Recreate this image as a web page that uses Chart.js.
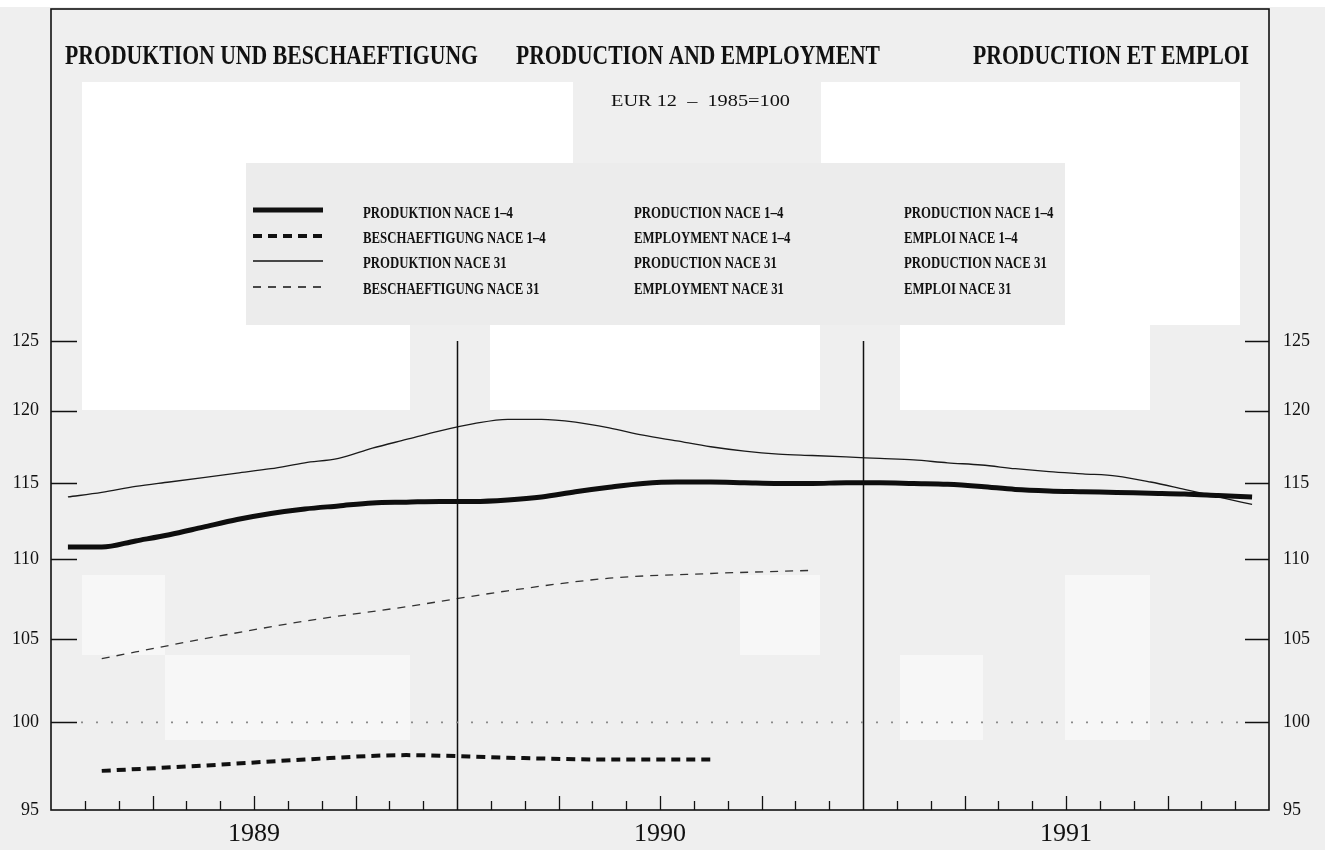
<!DOCTYPE html>
<html><head><meta charset="utf-8">
<script src="https://cdn.jsdelivr.net/npm/chart.js@4.4.1/dist/chart.umd.min.js"></script>
<style>html,body{margin:0;padding:0;background:#efefef;}canvas{display:block;}</style>
</head><body>
<canvas id="c" width="1325" height="850"></canvas>
<script>
// ---- data ----
const years = ['1989', '1990', '1991'];
const monthNames = ['Jan','Feb','Mar','Apr','May','Jun','Jul','Aug','Sep','Oct','Nov','Dec'];
const yTickValues = [95, 100, 105, 110, 115, 120, 125];

const productionNace14 = [
  110.8, 110.8, 111.2, 111.6, 112.1, 112.6, 113.0, 113.3, 113.5, 113.7, 113.75, 113.8,
  113.8, 113.9, 114.1, 114.45, 114.75, 115.0, 115.1, 115.1, 115.05, 115.0, 115.0, 115.05,
  115.05, 115.0, 114.95, 114.8, 114.6, 114.5, 114.45, 114.4, 114.35, 114.3, 114.2, 114.1
];
const productionNace31 = [
  114.1, 114.4, 114.8, 115.1, 115.4, 115.7, 116.0, 116.4, 116.7, 117.4, 118.0, 118.6,
  119.1, 119.4, 119.4, 119.2, 118.8, 118.3, 117.9, 117.5, 117.2, 117.0, 116.9, 116.8,
  116.7, 116.6, 116.4, 116.25, 116.0, 115.8, 115.65, 115.5, 115.1, 114.6, 114.1, 113.6
];
// quarterly values placed at the middle month of each quarter
const employmentNace14 = [
  null, 97.2, null, null, 97.5, null, null, 97.85, null, null, 98.1, null,
  null, 97.95, null, null, 97.85, null, null, 97.85, null, null, null, null,
  null, null, null, null, null, null, null, null, null, null, null, null
];
const employmentNace31 = [
  null, 103.8, null, null, 105.0, null, null, 106.1, null, null, 107.0, null,
  null, 108.0, null, null, 108.8, null, null, 109.1, null, null, 109.3, null,
  null, null, null, null, null, null, null, null, null, null, null, null
];

const titles = ['PRODUKTION UND BESCHAEFTIGUNG', 'PRODUCTION AND EMPLOYMENT', 'PRODUCTION ET EMPLOI'];
const subtitle = 'EUR 12  \u2013  1985=100';
const legendDe = ['PRODUKTION NACE 1\u20134', 'BESCHAEFTIGUNG NACE 1\u20134', 'PRODUKTION NACE 31', 'BESCHAEFTIGUNG NACE 31'];
const legendEn = ['PRODUCTION NACE 1\u20134', 'EMPLOYMENT NACE 1\u20134', 'PRODUCTION NACE 31', 'EMPLOYMENT NACE 31'];
const legendFr = ['PRODUCTION NACE 1\u20134', 'EMPLOI NACE 1\u20134', 'PRODUCTION NACE 31', 'EMPLOI NACE 31'];
const referenceLevel = 100;

// ---- build ----
const categories = [];
years.forEach(y => monthNames.forEach(m => categories.push(m + ' ' + y)));

const SERIF = '"Liberation Serif", "DejaVu Serif", serif';

const lineStyles = [
  { width: 5, dash: [] },
  { width: 4, dash: [9, 6] },
  { width: 1.3, dash: [] },
  { width: 1.3, dash: [8, 7] }
];

function fitText(ctx, str, x, y, w, font, align) {
  ctx.font = font;
  const nat = ctx.measureText(str).width;
  const s = w / nat;
  ctx.save();
  ctx.translate(x, y);
  ctx.scale(s, 1);
  ctx.textAlign = align || 'left';
  ctx.fillText(str, 0, 0);
  ctx.restore();
}

const bgPlugin = {
  id: 'bg',
  beforeDraw(chart) {
    const c = chart.ctx;
    c.save();
    c.fillStyle = '#efefef';
    c.fillRect(0, 0, chart.width, chart.height);
    c.fillStyle = '#ffffff';
    c.fillRect(0, 0, 1325, 7);
    c.fillRect(82, 82, 491, 81);
    c.fillRect(821, 82, 419, 81);
    c.fillRect(82, 163, 164, 162);
    c.fillRect(1065, 163, 175, 162);
    c.fillRect(82, 325, 328, 85);
    c.fillRect(490, 325, 330, 85);
    c.fillRect(900, 325, 250, 85);
    c.fillStyle = '#f7f7f7';
    c.fillRect(82, 575, 83, 80);
    c.fillRect(165, 655, 245, 85);
    c.fillRect(740, 575, 80, 80);
    c.fillRect(900, 655, 83, 85);
    c.fillRect(1065, 575, 85, 165);
    c.restore();
  }
};

const framePlugin = {
  id: 'frame',
  afterDraw(chart) {
    const c = chart.ctx;
    const ca = chart.chartArea;
    const xs = chart.scales.x;
    const ys = chart.scales.y;
    c.save();
    c.strokeStyle = '#111';
    c.fillStyle = '#111';
    // outer frame / axes
    c.lineWidth = 1.6;
    c.strokeRect(ca.left, 9, ca.right - ca.left, ca.bottom - 9);
    // y ticks (inward, both sides)
    c.lineWidth = 1.4;
    yTickValues.forEach(v => {
      if (v === yTickValues[0]) return;
      const py = Math.round(ys.getPixelForValue(v)) + 0.5;
      c.beginPath();
      c.moveTo(ca.left, py); c.lineTo(ca.left + 26, py);
      c.moveTo(ca.right - 24, py); c.lineTo(ca.right, py);
      c.stroke();
    });
    // month boundary ticks and year separators
    for (let i = 1; i < categories.length; i++) {
      const px = Math.round((xs.getPixelForValue(i - 1) + xs.getPixelForValue(i)) / 2) + 0.5;
      c.beginPath();
      if (i % 12 === 0) {
        c.lineWidth = 1.5;
        c.moveTo(px, ca.bottom); c.lineTo(px, ca.top);
      } else {
        c.lineWidth = 1.3;
        c.moveTo(px, ca.bottom); c.lineTo(px, ca.bottom - (i % 3 === 0 ? 14 : 9));
      }
      c.stroke();
    }
    // dotted reference line at 100
    const p100 = ys.getPixelForValue(referenceLevel);
    c.strokeStyle = '#8a8a8a';
    c.lineWidth = 1.6;
    c.setLineDash([2, 13]);
    c.beginPath();
    c.moveTo(ca.left + 30, p100); c.lineTo(ca.right - 26, p100);
    c.stroke();
    c.setLineDash([]);

    // titles
    c.fillStyle = '#111';
    c.textBaseline = 'alphabetic';
    const tb = 'bold 27px ' + SERIF;
    fitText(c, titles[0], 65, 64, 413, tb);
    fitText(c, titles[1], 516, 64, 364, tb);
    fitText(c, titles[2], 973, 64, 276, tb);
    fitText(c, subtitle, 611, 106, 179, '16px ' + SERIF);

    // legend
    c.fillStyle = '#ececec';
    c.fillRect(246, 163, 819, 162);
    c.fillStyle = '#111';
    const lf = 'bold 16px ' + SERIF;
    c.font = lf;
    const sc = 150 / c.measureText(legendDe[0]).width;
    const sampleY = [210, 236, 261, 287];
    const baseY = [218, 243, 268, 294];
    chart.data.datasets.forEach((ds, k) => {
      const idx = ds.legendRow;
      c.strokeStyle = '#111';
      c.lineWidth = ds.borderWidth;
      c.setLineDash(ds.borderDash || []);
      c.beginPath();
      c.moveTo(253, sampleY[idx]); c.lineTo(323, sampleY[idx]);
      c.stroke();
      c.setLineDash([]);
    });
    [[legendDe, 363], [legendEn, 634], [legendFr, 904]].forEach(([arr, x0]) => {
      arr.forEach((t, r) => {
        c.save();
        c.font = lf;
        c.translate(x0, baseY[r]);
        c.scale(sc, 1);
        c.fillText(t, 0, 0);
        c.restore();
      });
    });
    c.restore();
  }
};

const common = { pointRadius: 0, pointHoverRadius: 0, fill: false, cubicInterpolationMode: 'monotone', borderCapStyle: 'butt' };

new Chart(document.getElementById('c'), {
  type: 'line',
  data: {
    labels: categories,
    datasets: [
      Object.assign({ label: legendDe[0], data: productionNace14, borderColor: '#0e0e0e', borderWidth: lineStyles[0].width, borderDash: lineStyles[0].dash, legendRow: 0 }, common),
      Object.assign({ label: legendDe[2], data: productionNace31, borderColor: '#1a1a1a', borderWidth: lineStyles[2].width, borderDash: lineStyles[2].dash, legendRow: 2 }, common),
      Object.assign({ label: legendDe[1], data: employmentNace14, borderColor: '#111', borderWidth: lineStyles[1].width, borderDash: lineStyles[1].dash, spanGaps: true, legendRow: 1 }, common),
      Object.assign({ label: legendDe[3], data: employmentNace31, borderColor: '#333', borderWidth: lineStyles[3].width, borderDash: lineStyles[3].dash, spanGaps: true, legendRow: 3 }, common)
    ]
  },
  options: {
    responsive: false,
    animation: false,
    devicePixelRatio: 1,
    layout: { padding: { top: 341, left: 0, right: 0, bottom: 0 } },
    plugins: { legend: { display: false }, title: { display: false }, tooltip: { enabled: false } },
    events: [],
    scales: {
      x: {
        type: 'category',
        offset: true,
        grid: { display: false, drawTicks: false },
        border: { display: false },
        ticks: {
          autoSkip: false, maxRotation: 0, minRotation: 0, padding: 9, labelOffset: 17,
          color: '#111', font: { family: SERIF, size: 26 },
          callback: (v, i) => (i % 12 === 5 ? years[Math.floor(i / 12)] : '')
        },
        afterFit: s => { s.height = 40; }
      },
      y: {
        type: 'logarithmic',
        position: 'left',
        min: 95, max: 125,
        grid: { display: false, drawTicks: false },
        border: { display: false },
        afterBuildTicks: s => { s.ticks = yTickValues.map(v => ({ value: v })); },
        ticks: { padding: 12, color: '#111', font: { family: SERIF, size: 18 }, callback: v => String(v) },
        afterFit: s => { s.width = 51; }
      },
      y2: {
        type: 'logarithmic',
        position: 'right',
        min: 95, max: 125,
        grid: { display: false, drawTicks: false },
        border: { display: false },
        afterBuildTicks: s => { s.ticks = yTickValues.map(v => ({ value: v })); },
        ticks: { padding: 14, color: '#111', font: { family: SERIF, size: 18 }, callback: v => String(v) },
        afterFit: s => { s.width = 56; }
      }
    }
  },
  plugins: [bgPlugin, framePlugin]
});
</script>
</body></html>
